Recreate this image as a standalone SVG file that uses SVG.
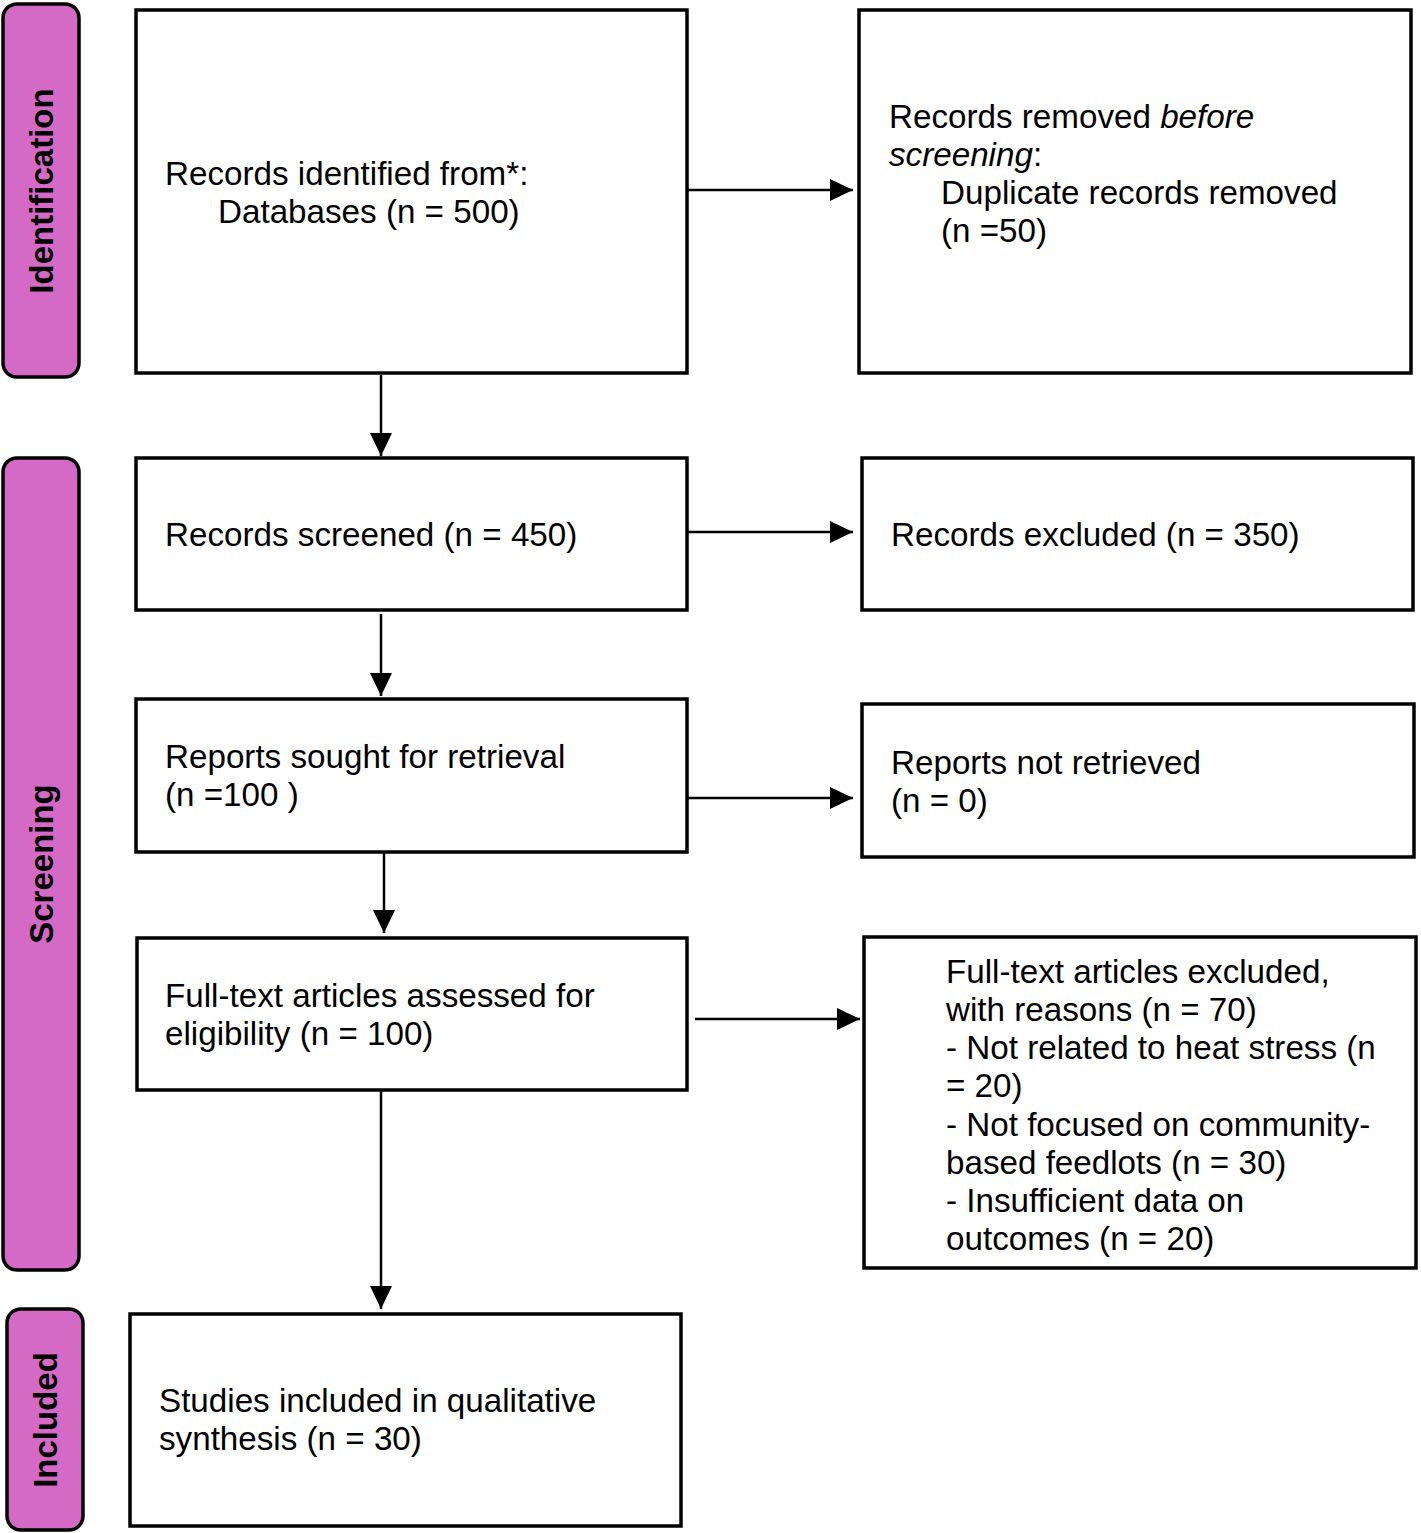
<svg xmlns="http://www.w3.org/2000/svg" width="1421" height="1533" viewBox="0 0 1421 1533">
<style>
.band{fill:#D56AC6;stroke:#000;stroke-width:3.5}
.box{fill:#fff;stroke:#000;stroke-width:3.5}
.t{font-family:"Liberation Sans",Arial,sans-serif;font-size:33.2px;fill:#000}
.lbl{font-family:"Liberation Sans",Arial,sans-serif;font-size:33px;font-weight:bold;fill:#000;text-anchor:middle}
.c{stroke:#000;stroke-width:2.5;fill:none}
</style>
<defs>
<marker id="ah" markerWidth="23" markerHeight="22" refX="23" refY="11" orient="auto" markerUnits="userSpaceOnUse">
<path d="M0,0 L23,11 L0,22 Z" fill="#000"/>
</marker>
</defs>
<rect width="1421" height="1533" fill="#fff"/>
<g id="band-identification">
<rect class="band" x="3" y="4" width="76" height="373" rx="14"/>
<text class="lbl" transform="translate(53,191) rotate(-90)">Identification</text>
</g>
<g id="band-screening">
<rect class="band" x="3" y="458" width="76" height="812" rx="14"/>
<text class="lbl" transform="translate(53,864) rotate(-90)">Screening</text>
</g>
<g id="band-included">
<rect class="band" x="7" y="1309" width="76" height="221" rx="14"/>
<text class="lbl" transform="translate(57,1420) rotate(-90)">Included</text>
</g>
<g id="n-identified">
<rect class="box" x="136" y="10" width="551" height="363"/>
<text class="t" x="165" y="185">Records identified from*:</text>
<text class="t" x="218" y="223">Databases (n = 500)</text>
</g>
<g id="n-removed">
<rect class="box" x="859" y="10" width="552" height="363"/>
<text class="t" x="889" y="128">Records removed <tspan font-style="italic">before</tspan></text>
<text class="t" x="889" y="166"><tspan font-style="italic">screening</tspan>:</text>
<text class="t" x="941" y="204">Duplicate records removed</text>
<text class="t" x="941" y="242">(n =50)</text>
</g>
<g id="n-screened">
<rect class="box" x="136" y="458" width="551" height="152"/>
<text class="t" x="165" y="546">Records screened (n = 450)</text>
</g>
<g id="n-excluded">
<rect class="box" x="862" y="458" width="551" height="152"/>
<text class="t" x="891" y="546">Records excluded (n = 350)</text>
</g>
<g id="n-sought">
<rect class="box" x="136" y="699" width="551" height="153"/>
<text class="t" x="165" y="768">Reports sought for retrieval</text>
<text class="t" x="165" y="806">(n =100 )</text>
</g>
<g id="n-notretrieved">
<rect class="box" x="862" y="704" width="552" height="153"/>
<text class="t" x="891" y="774">Reports not retrieved</text>
<text class="t" x="891" y="812">(n = 0)</text>
</g>
<g id="n-assessed">
<rect class="box" x="137" y="938" width="550" height="152"/>
<text class="t" x="165" y="1007">Full-text articles assessed for</text>
<text class="t" x="165" y="1045">eligibility (n = 100)</text>
</g>
<g id="n-ftexcluded">
<rect class="box" x="864" y="937" width="552" height="331"/>
<text class="t" x="946" y="983">Full-text articles excluded,</text>
<text class="t" x="946" y="1021">with reasons (n = 70)</text>
<text class="t" x="946" y="1059">- Not related to heat stress (n</text>
<text class="t" x="946" y="1097">= 20)</text>
<text class="t" x="946" y="1136">- Not focused on community-</text>
<text class="t" x="946" y="1174">based feedlots (n = 30)</text>
<text class="t" x="946" y="1212">- Insufficient data on</text>
<text class="t" x="946" y="1250">outcomes (n = 20)</text>
</g>
<g id="n-included">
<rect class="box" x="130" y="1314" width="551" height="212"/>
<text class="t" x="159" y="1412">Studies included in qualitative</text>
<text class="t" x="159" y="1450">synthesis (n = 30)</text>
</g>
<g id="connectors">
<line class="c" x1="688" y1="190" x2="853" y2="190" marker-end="url(#ah)"/>
<line class="c" x1="381" y1="375" x2="381" y2="456" marker-end="url(#ah)"/>
<line class="c" x1="688" y1="532" x2="853" y2="532" marker-end="url(#ah)"/>
<line class="c" x1="381" y1="614" x2="381" y2="696" marker-end="url(#ah)"/>
<line class="c" x1="688" y1="798" x2="853" y2="798" marker-end="url(#ah)"/>
<line class="c" x1="384" y1="852" x2="384" y2="933" marker-end="url(#ah)"/>
<line class="c" x1="695" y1="1019" x2="860" y2="1019" marker-end="url(#ah)"/>
<line class="c" x1="381" y1="1090" x2="381" y2="1309" marker-end="url(#ah)"/>
</g>
</svg>
